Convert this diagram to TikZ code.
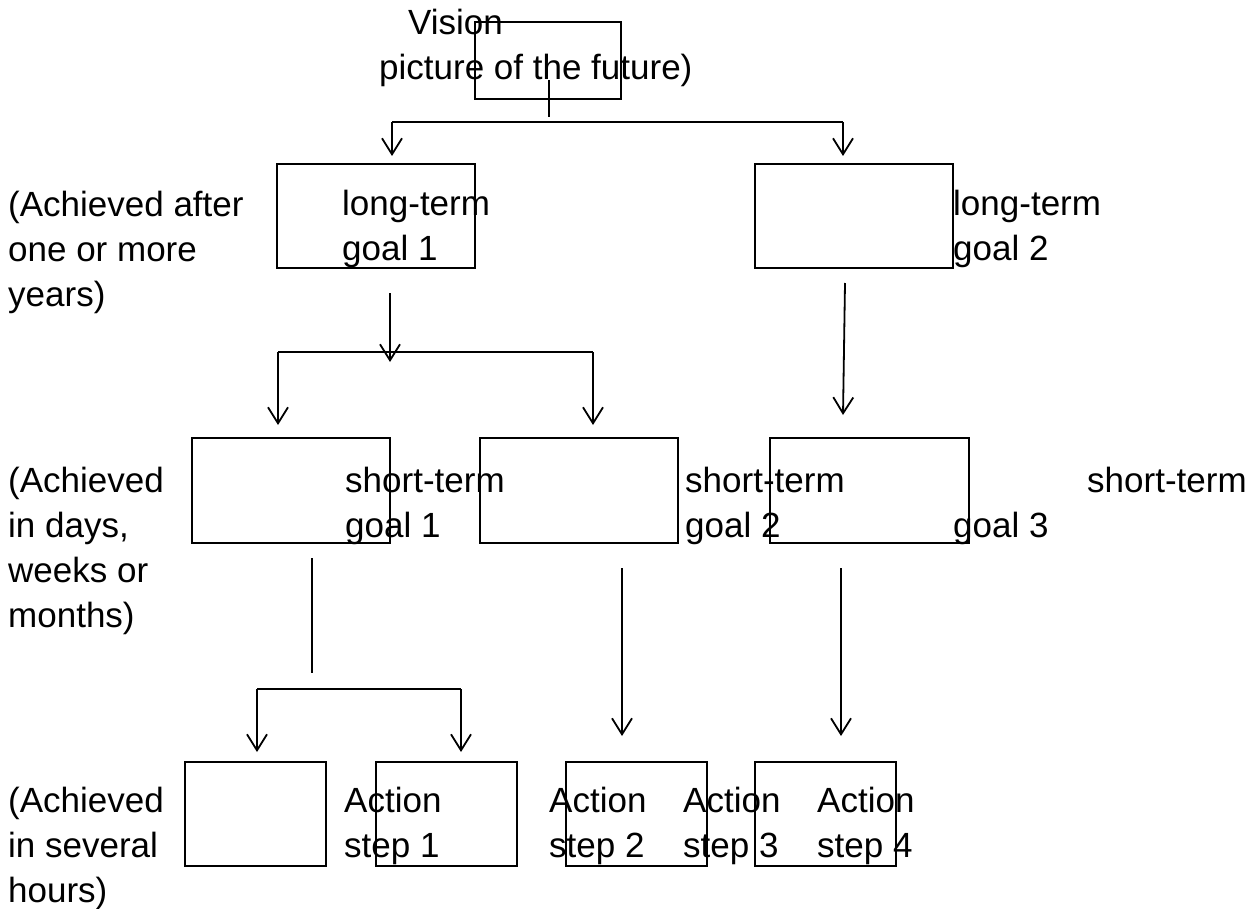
\documentclass[tikz,border=0pt]{standalone}
\usepackage{fontspec}
\setmainfont{Liberation Sans}
\usetikzlibrary{arrows.meta}
\begin{document}
\begin{tikzpicture}[x=1pt,y=-1pt,
 box/.style={draw,line width=1.5pt,inner sep=0pt},
 lbl/.style={anchor=base west,inner sep=0pt,align=left,font=\fontsize{35}{45}\selectfont},
 conn/.style={line width=1.8pt},
 arr/.style={conn,-{Straight Barb[length=16pt,width=20pt,line width=1.8pt]}}]
\useasboundingbox (0,0) rectangle (1257,909);
% boxes
\node[box,minimum width=146pt,minimum height=77pt] (vis) at (548,60.5) {};
\node[box,minimum width=198pt,minimum height=104pt] (lt1) at (376,216) {};
\node[box,minimum width=198pt,minimum height=104pt] (lt2) at (854,216) {};
\node[box,minimum width=198pt,minimum height=105pt] (st1) at (291,490.5) {};
\node[box,minimum width=198pt,minimum height=105pt] (st2) at (579,490.5) {};
\node[box,minimum width=199pt,minimum height=105pt] (st3) at (869.5,490.5) {};
\node[box,minimum width=141pt,minimum height=104pt] (a1) at (255.5,814) {};
\node[box,minimum width=141pt,minimum height=104pt] (a2) at (446.5,814) {};
\node[box,minimum width=141pt,minimum height=104pt] (a3) at (636.5,814) {};
\node[box,minimum width=141pt,minimum height=104pt] (a4) at (825.5,814) {};
% texts (anchor = baseline of the last line)
\node[lbl] (tvis) at (379,80) {\hspace*{29pt}Vision\\picture of the future)};
\node[lbl] (lev1) at (8,306) {(Achieved after\\one or more\\years)};
\node[lbl] (lev2) at (8,627) {(Achieved\\in days,\\weeks or\\months)};
\node[lbl] (lev3) at (8,902) {(Achieved\\in several\\hours)};
\node[lbl] (tlt1) at (342,261) {long-term\\goal 1};
\node[lbl] (tlt2) at (953,261) {long-term\\goal 2};
\node[lbl] (tst1) at (345,537) {short-term\\goal 1};
\node[lbl] (tst2) at (685,537) {short-term\\goal 2};
\node[lbl] (tst3a) at (1087,492) {short-term};
\node[lbl] (tst3b) at (953,537) {goal 3};
\node[lbl] (ta1) at (344,857) {Action\\step 1};
\node[lbl] (ta2) at (549,857) {Action\\step 2};
\node[lbl] (ta3) at (683,857) {Action\\step 3};
\node[lbl] (ta4) at (817,857) {Action\\step 4};
% connector points
\coordinate (v0) at (549,80);
\coordinate (v1) at (549,117);
\coordinate (b1l) at (392,122);
\coordinate (b1r) at (843,122);
\coordinate (e1l) at (392,156);
\coordinate (e1r) at (843,156);
\coordinate (l1s) at (390,293);
\coordinate (l1e) at (390,362);
\coordinate (b2l) at (278,352);
\coordinate (b2r) at (593,352);
\coordinate (e2l) at (278,425);
\coordinate (e2r) at (593,425);
\coordinate (l2s) at (845,283);
\coordinate (l2e) at (843,415);
\coordinate (s1s) at (312,558);
\coordinate (s1e) at (312,673);
\coordinate (b3l) at (257,689);
\coordinate (b3r) at (461,689);
\coordinate (e3l) at (257,752);
\coordinate (e3r) at (461,752);
\coordinate (s2s) at (622,568);
\coordinate (s2e) at (622,736);
\coordinate (s3s) at (841,568);
\coordinate (s3e) at (841,736);
% connectors
\draw[conn] (v0) -- (v1);
\draw[conn] (b1l) -- (b1r);
\draw[arr] (b1l) -- (e1l);
\draw[arr] (b1r) -- (e1r);
\draw[arr] (l1s) -- (l1e);
\draw[conn] (b2l) -- (b2r);
\draw[arr] (b2l) -- (e2l);
\draw[arr] (b2r) -- (e2r);
\draw[arr] (l2s) -- (l2e);
\draw[conn] (s1s) -- (s1e);
\draw[conn] (b3l) -- (b3r);
\draw[arr] (b3l) -- (e3l);
\draw[arr] (b3r) -- (e3r);
\draw[arr] (s2s) -- (s2e);
\draw[arr] (s3s) -- (s3e);
\end{tikzpicture}
\end{document}
